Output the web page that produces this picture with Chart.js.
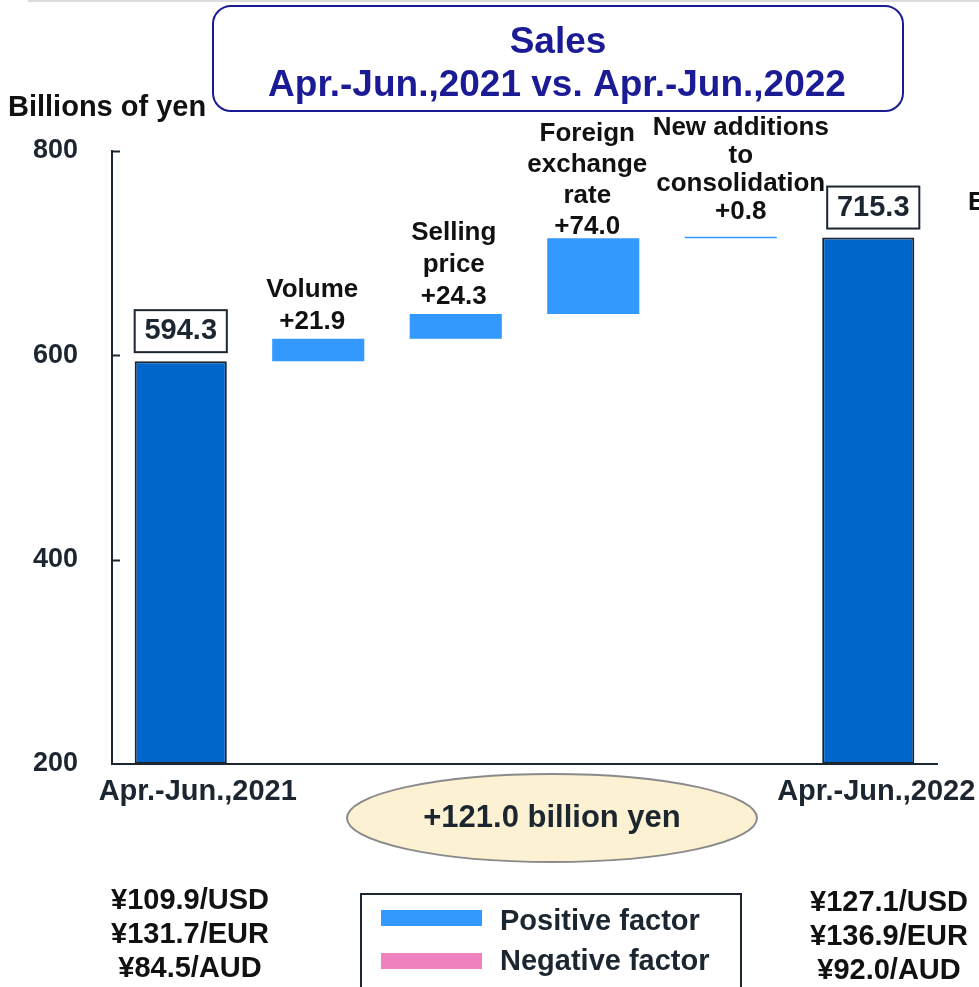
<!DOCTYPE html>
<html>
<head>
<meta charset="utf-8">
<script src="https://cdn.jsdelivr.net/npm/chart.js@4.4.1/dist/chart.umd.min.js"></script>
<style>
  html, body { margin: 0; padding: 0; background: #fff; }
  #wrap { width: 979px; height: 987px; position: relative; overflow: hidden; }
</style>
</head>
<body>
<div id="wrap"><canvas id="sales-chart" width="979" height="987"></canvas></div>
<script>
// Data
const categories = ['Apr.-Jun.,2021', 'Volume', 'Selling price', 'Foreign exchange rate', 'New additions to consolidation', 'Apr.-Jun.,2022'];
const factorNames = [[], ['Volume'], ['Selling', 'price'], ['Foreign', 'exchange', 'rate'], ['New additions', 'to', 'consolidation'], []];
const startTotal = 594.3;
const factorValues = [21.9, 24.3, 74.0, 0.8];
const endTotal = 715.3;
const yTicks = [200, 400, 600, 800];
const totalChange = '+121.0 billion yen';
const ratesBefore = ['¥109.9/USD', '¥131.7/EUR', '¥84.5/AUD'];
const ratesAfter = ['¥127.1/USD', '¥136.9/EUR', '¥92.0/AUD'];
const legendItems = ['Positive factor', 'Negative factor'];

const FONT = "'Liberation Sans', Arial, sans-serif";
const TEXT = '#1c2630';
const BLACK = '#111111';
const NAVY = '#1b1b96';
const TOTAL_BLUE = '#0066cc';
const POS_BLUE = '#3399ff';
const NEG_PINK = '#ee82c0';

// build floating bars [from, to]
const yMin = yTicks[0];
const bars = [[yMin, startTotal]];
let running = startTotal;
factorValues.forEach(v => { bars.push([running, running + v]); running += v; });
bars.push([yMin, endTotal]);

const valueText = [startTotal.toFixed(1)].concat(factorValues.map(v => '+' + v.toFixed(1)), [endTotal.toFixed(1)]);
const isTotal = i => i === 0 || i === categories.length - 1;

// label layout per category (gap above bar top, line height, sideways nudge)
const labelGap = [0, 17, 17, 12, 25, 0];
const labelLine = [0, 32, 32, 31, 28, 0];
const labelShift = [0, -6, -2, -6, 10, 0];
const xLabelShift = [17, 0, 0, 0, 0, 8];
const boxShift = [0, 0, 0, 0, 0, 5];

function txt(ctx, s, x, y, size, color, align) {
    ctx.font = 'bold ' + size + 'px ' + FONT;
    ctx.fillStyle = color || TEXT;
    ctx.textAlign = align || 'center';
    ctx.textBaseline = 'middle';
    ctx.fillText(s, x, y);
}

const overlay = {
    id: 'overlay',
    afterDatasetsDraw(chart) {
        const ctx = chart.ctx;
        const y = chart.scales.y;
        const area = chart.chartArea;
        ctx.save();
        // inward tick marks
        ctx.strokeStyle = TEXT;
        ctx.lineWidth = 2;
        yTicks.slice(1).forEach(t => {
            const py = Math.round(y.getPixelForValue(t)) + 0.5;
            ctx.beginPath(); ctx.moveTo(area.left, py); ctx.lineTo(area.left + 8, py); ctx.stroke();
        });

        const meta = chart.getDatasetMeta(0);
        meta.data.forEach((bar, i) => {
            const top = Math.min(bar.y, bar.base);
            if (isTotal(i)) {
                const w = bar.width;
                const bx = bar.x + boxShift[i];
                ctx.strokeStyle = TEXT;
                ctx.lineWidth = 2;
                ctx.strokeRect(bx - w / 2, top - 51, w, 42);
                txt(ctx, valueText[i], bx, top - 30, 29);
                txt(ctx, categories[i], bar.x + xLabelShift[i], area.bottom + 28, 29);
            } else {
                const cx = bar.x + labelShift[i];
                let ly = top - labelGap[i];
                txt(ctx, valueText[i], cx, ly, 26, BLACK);
                const names = factorNames[i];
                for (let k = names.length - 1; k >= 0; k--) {
                    ly -= labelLine[i];
                    txt(ctx, names[k], cx, ly, 26, BLACK);
                }
            }
        });
        ctx.restore();
    },
    afterDraw(chart) {
        const ctx = chart.ctx;
        ctx.save();
        // faint rule at the very top of the slide
        ctx.fillStyle = '#dcdcdc';
        ctx.fillRect(28, 0, 951, 2);

        // title box
        ctx.strokeStyle = NAVY;
        ctx.lineWidth = 2;
        ctx.beginPath();
        ctx.roundRect(213, 6, 690, 105, 18);
        ctx.stroke();
        txt(ctx, 'Sales', 558, 43, 37, NAVY);
        txt(ctx, 'Apr.-Jun.,2021 vs. Apr.-Jun.,2022', 557, 86, 37, NAVY);

        txt(ctx, 'Billions of yen', 8, 108, 29, BLACK, 'left');
        txt(ctx, 'Exchange rates', 968, 203, 26, BLACK, 'left');

        // total change bubble
        ctx.beginPath();
        ctx.ellipse(552, 818, 205, 44, 0, 0, Math.PI * 2);
        ctx.fillStyle = '#fdf1d3';
        ctx.fill();
        ctx.strokeStyle = '#8a8a8a';
        ctx.lineWidth = 2;
        ctx.stroke();
        txt(ctx, totalChange, 552, 818, 31);

        // exchange rates under each period
        ratesBefore.forEach((s, k) => txt(ctx, s, 190, 901 + k * 34, 29, BLACK));
        ratesAfter.forEach((s, k) => txt(ctx, s, 889, 903 + k * 34, 29, BLACK));

        // legend
        ctx.strokeStyle = TEXT;
        ctx.lineWidth = 2;
        ctx.strokeRect(361, 894, 380, 120);
        [POS_BLUE, NEG_PINK].forEach((c, k) => {
            ctx.fillStyle = c;
            ctx.fillRect(381, 910 + k * 43, 101, 16);
            txt(ctx, legendItems[k], 500, 922 + k * 40, 29, TEXT, 'left');
        });
        ctx.restore();
    }
};

new Chart(document.getElementById('sales-chart'), {
    type: 'bar',
    data: {
        labels: categories,
        datasets: [{
            data: bars,
            backgroundColor: categories.map((_, i) => isTotal(i) ? TOTAL_BLUE : POS_BLUE),
            borderColor: TEXT,
            borderWidth: categories.map((_, i) => isTotal(i) ? 2 : 0),
            borderSkipped: false,
            minBarLength: 1.5,
            barPercentage: 0.67,
            categoryPercentage: 1
        }]
    },
    options: {
        responsive: false,
        animation: false,
        layout: { padding: { top: 151, right: 42, left: 0, bottom: 0 } },
        plugins: { legend: { display: false }, tooltip: { enabled: false } },
        scales: {
            x: {
                grid: { display: false },
                border: { display: true, color: TEXT, width: 2 },
                ticks: { display: false },
                afterFit(s) { s.height = 223; }
            },
            y: {
                min: yTicks[0],
                max: yTicks[yTicks.length - 1],
                afterBuildTicks(s) { s.ticks = yTicks.map(v => ({ value: v })); },
                grid: { display: false },
                border: { display: true, color: TEXT, width: 2 },
                ticks: { padding: 26, color: TEXT, font: { family: FONT, size: 27, weight: 'bold' } },
                afterFit(s) { s.width = 112; }
            }
        }
    },
    plugins: [overlay]
});
</script>
</body>
</html>
